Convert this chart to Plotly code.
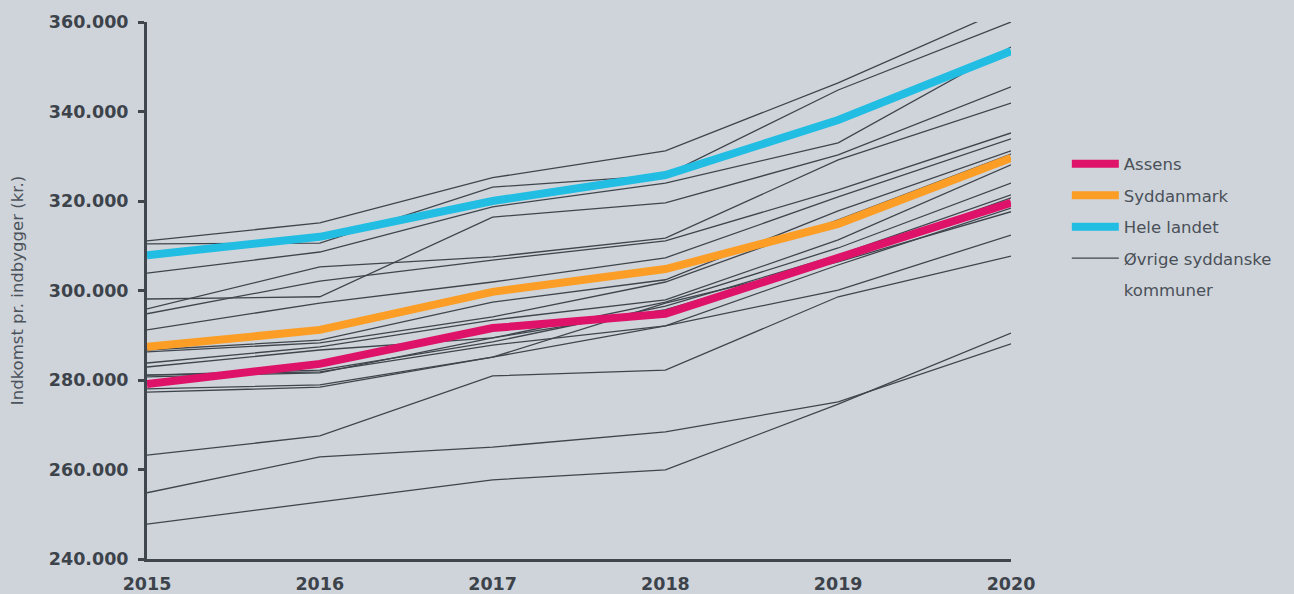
import plotly.graph_objects as go

years = [2015, 2016, 2017, 2018, 2019, 2020]

assens = [279100, 283600, 291600, 294800, 307300, 319600]
syddanmark = [287400, 291200, 299700, 304800, 314900, 329600]
hele_landet = [307900, 312000, 320000, 325800, 338100, 353500]

# Øvrige syddanske kommuner (approximate)
other_municipalities = [
    [311100, 315100, 325200, 331200, 346400, 363400],
    [310400, 310600, 323100, 325800, 344800, 360000],
    [303900, 308600, 318700, 324000, 333000, 354400],
    [298100, 298600, 316400, 319600, 330300, 345500],
    [295900, 305300, 307500, 311700, 329200, 341900],
    [294800, 302100, 306800, 311100, 322500, 335200],
    [291200, 297200, 301900, 307300, 320900, 333900],
    [286700, 288900, 297400, 302400, 317800, 331200],
    [286300, 288300, 294100, 301900, 315800, 330500],
    [283800, 287400, 293400, 297900, 311300, 328100],
    [282900, 286700, 289400, 297400, 309500, 324000],
    [281100, 282200, 288500, 296500, 307900, 321400],
    [280700, 281600, 289400, 295700, 306800, 320700],
    [278000, 278900, 285100, 292100, 305700, 318400],
    [277300, 278400, 285100, 297200, 306400, 317600],
    [263200, 267500, 280900, 282200, 298600, 307700],
    [281100, 281800, 287800, 292100, 300100, 312400],
    [254800, 262800, 265000, 268400, 275100, 288100],
    [247800, 252700, 257700, 259900, 274600, 290500],
]

y_ticks = [240000, 260000, 280000, 300000, 320000, 340000, 360000]
y_tick_labels = ["240.000", "260.000", "280.000", "300.000", "320.000", "340.000", "360.000"]

ink = "#3d434b"
bg = "#cfd4da"
font_family = "DejaVu Sans"

fig = go.Figure()

for i, vals in enumerate(other_municipalities):
    fig.add_trace(go.Scatter(
        x=years, y=vals, mode="lines",
        line=dict(color="#3f454d", width=1.3),
        name="Øvrige syddanske",
        legendgroup="other", legendrank=4,
        showlegend=(i == 0), hoverinfo="skip",
    ))

# dummy entry for the wrapped second line of the legend label
fig.add_trace(go.Scatter(
    x=[None], y=[None], mode="lines",
    line=dict(color="rgba(0,0,0,0)", width=0),
    name="kommuner", legendgroup="other2", legendrank=5, showlegend=True,
))

fig.add_trace(go.Scatter(x=years, y=hele_landet, mode="lines", name="Hele landet",
                         line=dict(color="#22bde3", width=8), legendgroup="hele", legendrank=3))
fig.add_trace(go.Scatter(x=years, y=syddanmark, mode="lines", name="Syddanmark",
                         line=dict(color="#fc9d25", width=8), legendgroup="syd", legendrank=2))
fig.add_trace(go.Scatter(x=years, y=assens, mode="lines", name="Assens",
                         line=dict(color="#de1268", width=8), legendgroup="assens", legendrank=1))

fig.update_layout(
    width=1294, height=594,
    margin=dict(l=147, r=283, t=22, b=35, autoexpand=False),
    paper_bgcolor=bg, plot_bgcolor=bg,
    font=dict(family=font_family, color=ink, size=16),
    legend=dict(
        x=1.0646, xanchor="left", y=0.768, yanchor="top",
        traceorder="grouped", tracegroupgap=7,
        font=dict(family=font_family, size=16.5, color="#4a5058"),
        bgcolor="rgba(0,0,0,0)", itemwidth=47,
    ),
    showlegend=True,
)

fig.update_xaxes(
    range=[2015, 2020], tickvals=years, ticktext=[str(y) for y in years],
    showgrid=False, zeroline=False, automargin=False,
    showline=True, linecolor="#3f464e", linewidth=3,
    ticks="", ticklabelstandoff=7,
    tickfont=dict(family=font_family, size=17.5, color=ink, weight="bold"),
)
fig.update_yaxes(
    range=[240000, 360000], tickvals=y_ticks, ticktext=y_tick_labels,
    showgrid=False, zeroline=False, automargin=False,
    showline=True, linecolor="#3f464e", linewidth=3,
    ticks="outside", ticklen=6, tickwidth=3, tickcolor="#3f464e",
    ticklabelstandoff=6,
    tickfont=dict(family=font_family, size=17.5, color=ink, weight="bold"),
    title=dict(text="Indkomst pr. indbygger (kr.)", standoff=22,
               font=dict(family=font_family, size=16.5, color="#4d535b")),
)

fig.write_html(
    "out.html",
    config={"displayModeBar": False},
    post_script="document.body.style.margin='0';document.body.style.background='#cfd4da';",
)
